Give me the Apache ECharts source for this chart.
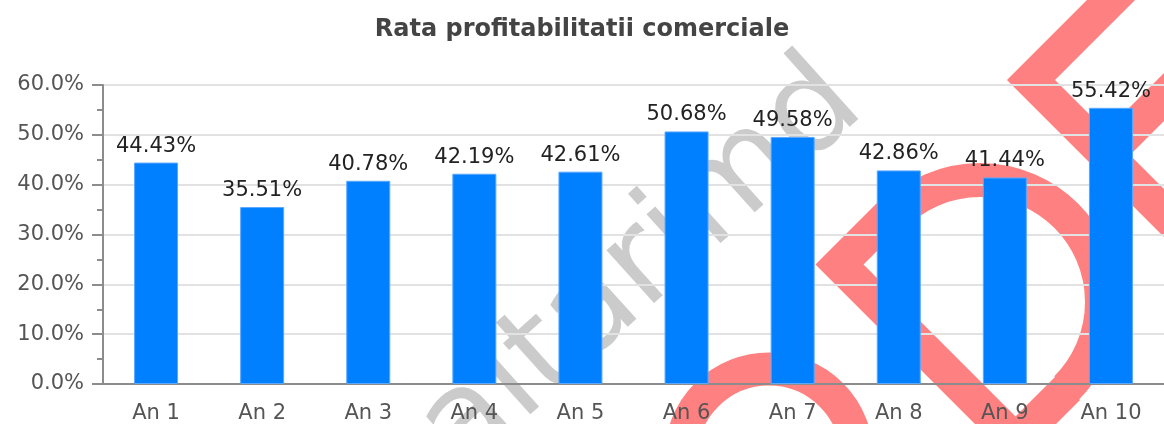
<!DOCTYPE html>
<html>
<head>
<meta charset="utf-8">
<script src="https://cdn.jsdelivr.net/npm/echarts@6/dist/echarts.min.js"></script>
<style>
html, body { margin: 0; padding: 0; background: #fff; }
#chart { width: 1164px; height: 424px; }
</style>
</head>
<body>
<div id="chart"></div>
<script>
// date grafic
var categories = ['An 1', 'An 2', 'An 3', 'An 4', 'An 5', 'An 6', 'An 7', 'An 8', 'An 9', 'An 10'];
var rates = [44.43, 35.51, 40.78, 42.19, 42.61, 50.68, 49.58, 42.86, 41.44, 55.42];
var yMin = 0;
var yMax = 60;
var yStep = 10;

var axisGray = '#8c8c8c';
var red = '#ff8080';

var chart = echarts.init(document.getElementById('chart'));

var option = {
    animation: false,
    title: {
        text: 'Rata profitabilitatii comerciale',
        left: 'center',
        top: 18,
        padding: 0,
        textStyle: {
            fontFamily: 'DejaVu Sans',
            fontWeight: 'bold',
            fontSize: 24,
            color: '#444'
        }
    },
    grid: {
        left: 103,
        right: 0,
        top: 85,
        bottom: 39
    },
    xAxis: {
        type: 'category',
        data: categories,
        axisLine: { lineStyle: { color: axisGray, width: 2 } },
        axisTick: { show: false },
        axisLabel: {
            margin: 19,
            color: '#555',
            fontFamily: 'DejaVu Sans',
            fontSize: 21
        }
    },
    yAxis: {
        type: 'value',
        min: yMin,
        max: yMax,
        interval: yStep,
        axisLine: { show: true, lineStyle: { color: axisGray, width: 2 } },
        axisTick: { show: true, length: 11, lineStyle: { color: axisGray, width: 2 } },
        minorTick: { show: true, splitNumber: 2, length: 6, lineStyle: { color: axisGray, width: 2 } },
        splitLine: { lineStyle: { color: '#e2e2e2', width: 2 } },
        axisLabel: {
            margin: 19,
            color: '#555',
            fontFamily: 'DejaVu Sans',
            fontSize: 21,
            formatter: function (v) { return v.toFixed(1) + '%'; }
        }
    },
    series: [{
        type: 'bar',
        data: rates,
        barWidth: 44,
        itemStyle: { color: '#0080ff', borderColor: '#5aa8ff', borderWidth: 1 },
        label: {
            show: true,
            position: 'top',
            distance: 6,
            color: '#222',
            fontFamily: 'DejaVu Sans',
            fontSize: 21,
            formatter: function (p) { return p.value.toFixed(2) + '%'; }
        }
    }],
    // watermark (text + logo) sub grafic
    graphic: [
        {
            type: 'text', z: -10, silent: true,
            x: 868, y: 112, rotation: 42 * Math.PI / 180,
            style: {
                text: 'altarimd',
                x: 0, y: 30,
                font: '130px "DejaVu Sans"',
                fill: '#cbcbcb',
                textAlign: 'right',
                textVerticalAlign: 'bottom'
            }
        },
        {
            type: 'circle', z: -10, silent: true,
            shape: { cx: 769, cy: 457, r: 88 },
            style: { fill: 'none', stroke: red, lineWidth: 33 }
        },
        {
            type: 'polyline', z: -10, silent: true,
            shape: { points: [[892, 212], [839.5, 264.5], [1015.5, 440.5], [1068, 388]] },
            style: { fill: 'none', stroke: red, lineWidth: 34, lineJoin: 'miter' }
        },
        {
            type: 'arc', z: -10, silent: true,
            shape: { cx: 980, cy: 302, r: 122, startAngle: -3 * Math.PI / 4, endAngle: Math.PI / 4, clockwise: true },
            style: { fill: 'none', stroke: red, lineWidth: 34 }
        },
        {
            type: 'polyline', z: -10, silent: true,
            shape: { points: [[1131, -20], [1031, 80], [1231, 280]] },
            style: { fill: 'none', stroke: red, lineWidth: 34, lineJoin: 'miter' }
        },
        {
            type: 'polyline', z: -10, silent: true,
            shape: { points: [[1100, 161], [1200, 61]] },
            style: { fill: 'none', stroke: red, lineWidth: 34 }
        }
    ]
};

chart.setOption(option);
</script>
</body>
</html>
